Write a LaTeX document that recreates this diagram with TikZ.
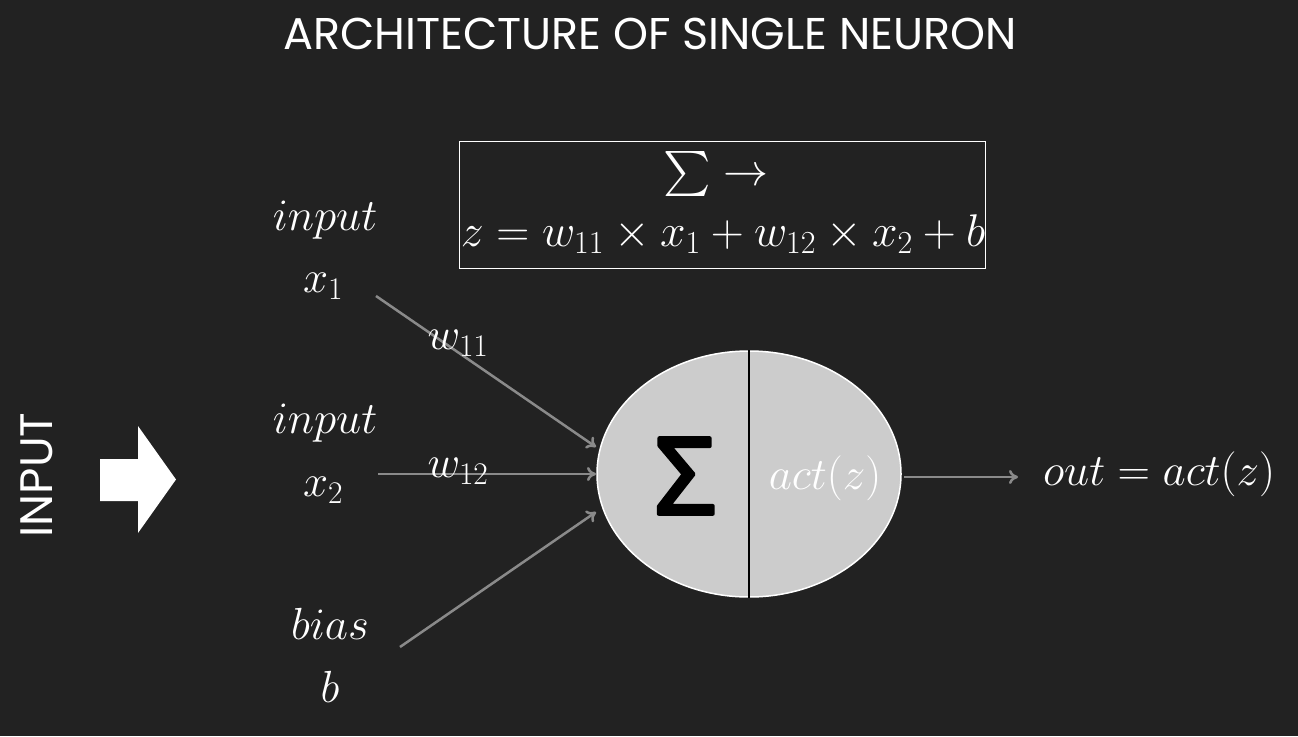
\RequirePackage{fix-cm}
\documentclass[tikz,border=0pt]{standalone}
\usepackage[no-math]{fontspec}
\DeclareFontShape{OMX}{cmex}{m}{n}{<->cmex10}{}
\setmainfont{Poppins}
\newfontfamily\sigfont{Open Sans}
\usetikzlibrary{shapes.geometric,arrows.meta}
\definecolor{bg}{HTML}{222222}
\definecolor{ellfill}{HTML}{CCCCCC}
\definecolor{conn}{HTML}{8A8A8A}
\begin{document}
\begin{tikzpicture}[x=1pt,y=-1pt,
  lbl/.style={text=white,inner sep=0pt,font=\fontsize{45}{50}\selectfont},
  wire/.style={draw=conn,line width=2.5pt,-{To[length=9pt,width=14pt,line width=2.5pt]}},
]
\fill[bg] (0,0) rectangle (1298,736);
\useasboundingbox (0,0) rectangle (1298,736);
% title
\node[text=white,inner sep=0pt,font=\fontsize{44.5}{50}\selectfont] (title) at (650,34) {ARCHITECTURE OF SINGLE NEURON};
% INPUT
\node[text=white,inner sep=0pt,rotate=90,font=\fontsize{45.5}{50}\selectfont] (inp) at (37,475) {INPUT};
\fill[white] (100,459) -- (138,459) -- (138,426) -- (176,479.5) -- (138,533) -- (138,501) -- (100,501) -- cycle;
% formula box
\node[draw=white,line width=1pt,minimum width=526pt,minimum height=127pt,inner sep=0pt] (box) at (722,204.5) {};
\node[lbl] (sumarr) at (716,174) {$\sum\rightarrow$};
\node[lbl,font=\fontsize{45.8}{50}\selectfont] (zeq) at (723,234) {$z = w_{11}\times x_1 + w_{12}\times x_2 + b$};
% inputs
\node[lbl] (in1) at (325,220) {$input$};
\node[lbl] (x1) at (323,286) {$x_1$};
\node[lbl] (in2) at (325,423) {$input$};
\node[lbl] (x2) at (323,490) {$x_2$};
\node[lbl] (bias) at (330,624) {$bias$};
\node[lbl] (b) at (330,687) {$b$};
% neuron
\node[ellipse,draw=white,line width=1.5pt,fill=ellfill,minimum width=304pt,minimum height=246pt,inner sep=0pt] (neuron) at (749,474) {};
\draw[black,line width=2pt] (neuron.north) -- (neuron.south);
\node[inner sep=0pt,text=black,font=\sigfont\fontsize{106}{106}\selectfont] (sig) at (685,476) {\special{pdf:code 2 Tr 1 j 1 J 4 w 0 G}Σ\special{pdf:code 0 Tr 0 j 0 J 1 w}};
\node[lbl] (act) at (825,478) {$act(z)$};
% connectors
\coordinate (s1) at (376,296);
\coordinate (s2) at (378,474);
\coordinate (s3) at (400,647);
\coordinate (e1) at (596,447);
\coordinate (e2) at (596,474);
\coordinate (e3) at (596,512);
\draw[wire] (s1) -- (e1);
\draw[wire] (s2) -- (e2);
\draw[wire] (s3) -- (e3);
\node[lbl] (w11) at (458,343) {$w_{11}$};
\node[lbl] (w12) at (458,471) {$w_{12}$};
\coordinate (oe) at (1018,477);
\draw[wire] (neuron.east) ++(2,3) coordinate (os) (os) -- (oe);
\node[lbl] (out) at (1159,474) {$out = act(z)$};
\end{tikzpicture}
\end{document}
